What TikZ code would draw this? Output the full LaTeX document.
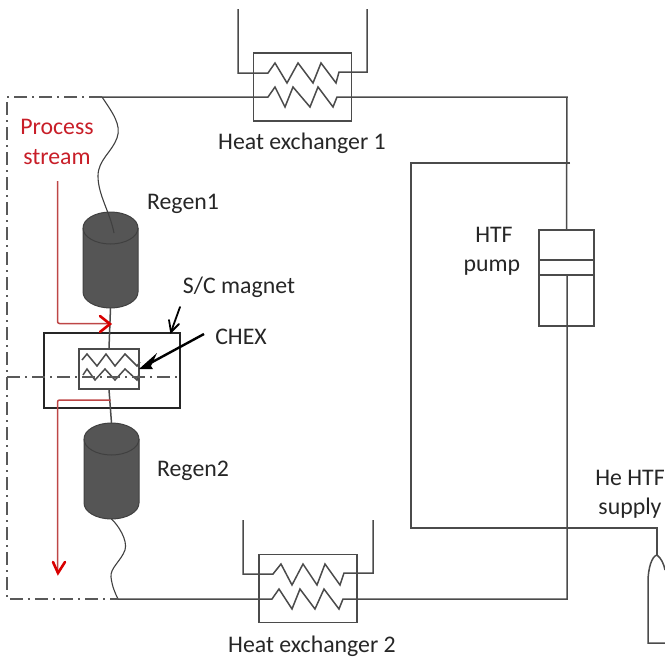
\documentclass[tikz,border=0pt]{standalone}
\usepackage{fontspec}
\setmainfont{Carlito}
\usepackage{xcolor}
\definecolor{linegray}{RGB}{75,75,75}
\definecolor{regengray}{RGB}{85,85,85}
\definecolor{streamred}{RGB}{190,70,70}
\definecolor{labelred}{RGB}{200,30,40}
\tikzset{pics/regencyl/.style={code={
    \draw[draw=black!75, line width=1pt, fill=regengray] (-27.5,-32) arc (180:0:27.5pt and 16pt) -- (27.5,32) arc (0:-180:27.5pt and 16pt) -- cycle;
    \draw[draw=black!75, line width=1pt] (-27.5,-32) arc (180:360:27.5pt and 16pt);
    \coordinate (-top) at (0,-48);
    \coordinate (-bot) at (0,48);
}}}

\begin{document}
\begin{tikzpicture}[x=1pt,y=-1pt,
    pipe/.style={draw=linegray, line width=1.5pt},
    thinbox/.style={draw=linegray, line width=1.3pt, inner sep=0pt},
    hxbox/.style={thinbox, minimum width=98pt, minimum height=68pt},
    dashline/.style={draw=black!65, line width=1.3pt, dash pattern=on 13pt off 5pt on 2pt off 5pt},
    stream/.style={draw=streamred, line width=1.5pt, rounded corners=2pt},
    redtip/.style={draw=red!85!black, line width=2.6pt, line cap=round},
    lbl/.style={font=\fontsize{23.8}{24}\selectfont, text=black!85, inner sep=0pt}]
    \useasboundingbox (0,0) rectangle (665,659);

    % Heat exchanger boxes and pump
    \node[hxbox] (hxa) at (302.5,87) {};
    \node[hxbox] (hxb) at (308,588.5) {};
    \node[thinbox, minimum width=60pt, minimum height=40pt] (chex) at (109,369) {};
    \node[draw=black!85, line width=1.8pt, inner sep=0pt, minimum width=136pt, minimum height=75pt] (magnet) at (112,370.5) {};
    \node[thinbox, minimum width=55pt, minimum height=96pt] (pump) at (566.5,278) {};
    \draw[thinbox] (pump.west |- 0,260) -- (pump.east |- 0,260);
    \draw[thinbox] (pump.west |- 0,275) -- (pump.east |- 0,275);

    % Regenerators
    \pic (regena) at (110.5,260) {regencyl};
    \pic (regenb) at (111.5,471) {regencyl};

    % Corners of the helium loop
    \coordinate (topleft) at (7,97);
    \coordinate (botleft) at (7,599);
    \coordinate (wavea) at (102,97);
    \coordinate (waveb) at (118,599);
    \coordinate (topright) at (567,97);
    \coordinate (botright) at (567,599);
    \coordinate (rodtop) at (567,275);
    \coordinate (bypassa) at (570,163);
    \coordinate (bypassb) at (411,163);
    \coordinate (bypassc) at (411,528);
    \coordinate (bypassd) at (657,528);
    \coordinate (bottle) at (657,555);

    % Main loop
    \draw[pipe] (wavea) -- (268,97) -- (275,87) -- (285,107) -- (293,87) -- (310,107) -- (318,87) -- (333,107) -- (337,97) -- (topright) -- (pump.north);
    \draw[pipe] (rodtop) -- (botright) -- (343,599) -- (339,609) -- (324,589) -- (315,609) -- (300,589) -- (292,609) -- (279,589) -- (272,599) -- (waveb);
    \draw[pipe] (bypassa) -- (bypassb) -- (bypassc) -- (bypassd) -- (bottle);

    % External loops of the heat exchangers
    \draw[pipe] (238,9) -- (238,73) -- (268,73) -- (275,63) -- (287,83) -- (298,63) -- (313,83) -- (321,63) -- (336,83) -- (339,72) -- (367,72) -- (367,9);
    \draw[pipe] (243,520) -- (243,574) -- (273,574) -- (281,564) -- (292,585) -- (303,564) -- (317,585) -- (325,564) -- (340,585) -- (344,573) -- (373,573) -- (373,520);

    % Bottle
    \draw[pipe] (665,643) -- (648,643) -- (648,582) .. controls (648,568) and (652,556) .. (bottle) .. controls (661,558) and (664,564) .. (665,570);

    % Wavy connections to the regenerators
    \draw[draw=black!75, line width=1.1pt] (wavea) .. controls (112,112) and (122,125) .. (117,138) .. controls (112,152) and (98,160) .. (98,176) .. controls (98,195) and (110,212) .. (114,233);
    \draw[draw=black!75, line width=1.1pt] (regenb-bot) .. controls (118,525) and (128,540) .. (125,550) .. controls (121,561) and (110,568) .. (111,577) .. controls (112,586) and (115,593) .. (waveb);

    % Stack through the magnet
    \draw[pipe] (regena-bot) -- (chex.north);
    \draw[pipe] (chex.south) -- (regenb-top);
    \draw[pipe] (82,360) -- (87,354) -- (97,366) -- (106,354) -- (115,366) -- (125,354) -- (137,366) -- (140,362);
    \draw[pipe] (83,375) -- (87,369) -- (95,380) -- (105,369) -- (115,380) -- (125,369) -- (137,380) -- (139,374);

    % Dash-dot lines
    \draw[dashline] (wavea) -- (topleft) -- (botleft) -- (waveb);
    \draw[dashline] (7,377) -- (178,377);

    % Process stream
    \draw[stream] (57.5,181) -- (57.5,323.5) -- (regena-bot |- 0,323.5);
    \draw[stream] (regena-bot |- 0,400) -- (57.5,400) -- (57.5,572);
    \draw[redtip] (100,316) -- (110,324) -- (100,332);
    \draw[redtip] (53,562) -- (58,573) -- (65,562);

    % Labels
    \node[lbl, text=labelred] (process) at (57,127) {Process};
    \node[lbl, text=labelred] (stream) at (57,157) {stream};
    \node[lbl] (regenalbl) at (183,204) {Regen1};
    \node[lbl] (regenblbl) at (193,471) {Regen2};
    \node[lbl] (magnetlbl) at (239,287) {S/C magnet};
    \node[lbl] (chexlbl) at (241,337) {CHEX};
    \node[lbl] (hxalbl) at (302,143) {Heat exchanger 1};
    \node[lbl] (hxblbl) at (312,646) {Heat exchanger 2};
    \node[lbl] (pumpa) at (494,235) {HTF};
    \node[lbl] (pumpb) at (492,268) {pump};
    \node[lbl] (hea) at (630,478) {He HTF};
    \node[lbl] (heb) at (630,508) {supply};

    % Pointers
    \draw[black, line width=1.8pt, line cap=round] (180,307) -- (171,332);
    \draw[black, line width=1.8pt, line cap=round] (169,320) -- (171,332) -- (179,324);
    \draw[black, line width=2.4pt] (204,334) -- (145,366);
    \fill[black] (139,369) -- (157,353) -- (151,366) -- (153,369) -- cycle;
\end{tikzpicture}
\end{document}
